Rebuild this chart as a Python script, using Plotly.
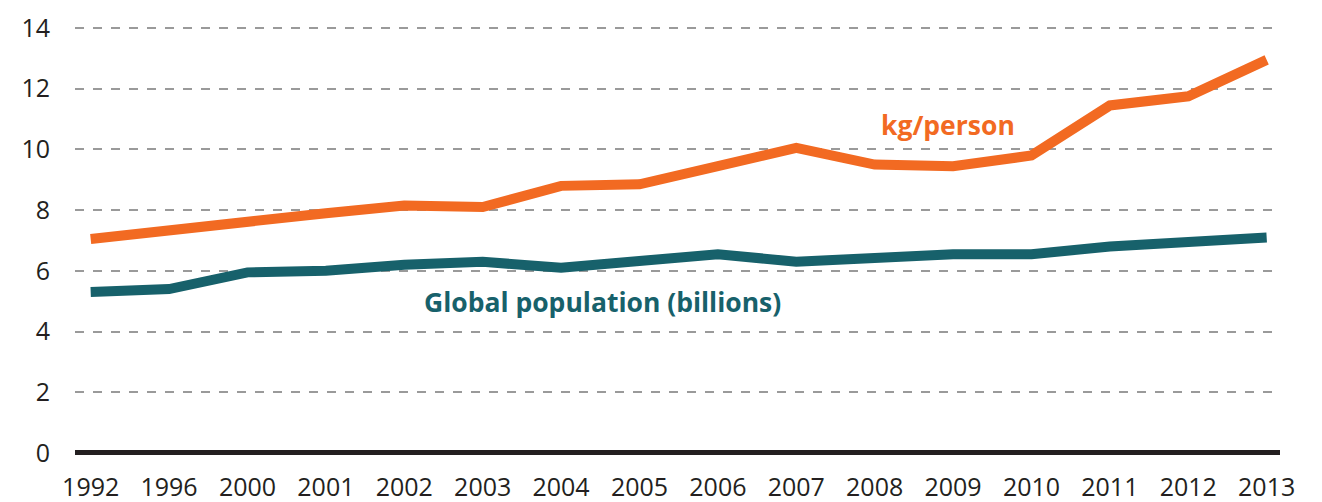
import plotly.graph_objects as go

years = ["1992", "1996", "2000", "2001", "2002", "2003", "2004", "2005",
         "2006", "2007", "2008", "2009", "2010", "2011", "2012", "2013"]
kg_per_person = [7.05, 7.35, 7.65, 7.9, 8.15, 8.1, 8.8, 8.85,
                 9.45, 10.05, 9.5, 9.45, 9.8, 11.45, 11.75, 12.95]
population = [5.3, 5.4, 5.95, 6.0, 6.2, 6.3, 6.1, 6.3,
              6.55, 6.3, 6.45, 6.55, 6.55, 6.8, 6.95, 7.1]
y_ticks = [0, 2, 4, 6, 8, 10, 12, 14]

ORANGE = "#F26A22"
TEAL = "#17616B"

fig = go.Figure()
fig.add_trace(go.Scatter(x=years, y=population, mode="lines",
                         line=dict(color=TEAL, width=10), name="Global population (billions)"))
fig.add_trace(go.Scatter(x=years, y=kg_per_person, mode="lines",
                         line=dict(color=ORANGE, width=10), name="kg/person"))

fig.add_annotation(x=10.93, y=10.8, xref="x", yref="y", text="<b>kg/person</b>",
                   showarrow=False, font=dict(family="Open Sans, sans-serif", size=26.5, color=ORANGE))
fig.add_annotation(x=6.53, y=4.97, xref="x", yref="y", text="<b>Global population (billions)</b>",
                   showarrow=False, font=dict(family="Open Sans, sans-serif", size=26.5, color=TEAL))

fig.update_layout(
    width=1314, height=494,
    margin=dict(l=67, r=42, t=17, b=46),
    paper_bgcolor="white", plot_bgcolor="white",
    showlegend=False,
    font=dict(family="Open Sans, sans-serif", size=25, color="#231F20"),
)
fig.update_xaxes(type="category", range=[-0.2, 15.17], showgrid=False, showline=False,
                 automargin=False,
                 ticks="", ticklabelstandoff=14, tickfont=dict(size=25, color="#231F20"))
fig.update_yaxes(range=[-0.1, 14.1], tickvals=y_ticks, showgrid=True,
                 automargin=False,
                 gridcolor="#9A9A9A", griddash="dash", gridwidth=2,
                 zeroline=True, zerolinecolor="#231F20", zerolinewidth=5,
                 showline=False, ticks="", ticklabelstandoff=24,
                 tickfont=dict(size=25, color="#231F20"))

fig.write_html("out.html")
